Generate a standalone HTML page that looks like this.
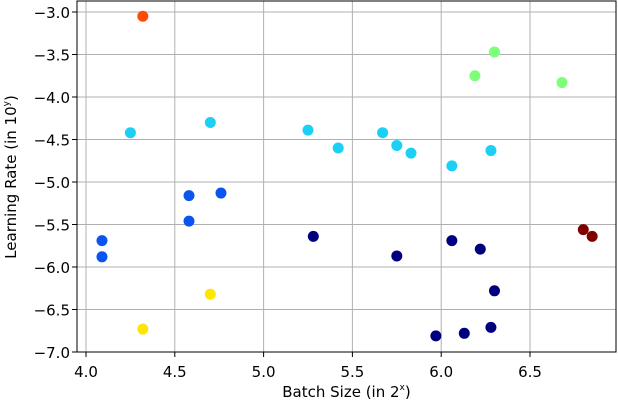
<!DOCTYPE html>
<html><head><meta charset="utf-8"><style>
body{margin:0;background:#fff;font-family:"DejaVu Sans","Liberation Sans",sans-serif;}
svg text{font-family:"DejaVu Sans","Liberation Sans",sans-serif;fill:#000}
</style></head><body>
<svg id="chart" width="618" height="402" xmlns="http://www.w3.org/2000/svg"></svg>
<script>
const xs=[4.32,6.30,6.19,6.68,4.25,4.70,5.25,5.42,5.67,5.75,5.83,6.06,6.28,4.09,4.09,4.58,4.58,4.76,5.28,5.75,6.06,6.22,6.30,5.97,6.13,6.28,6.80,6.85,4.70,4.32];
const ys=[-3.05,-3.47,-3.75,-3.83,-4.42,-4.30,-4.39,-4.60,-4.42,-4.57,-4.66,-4.81,-4.63,-5.69,-5.88,-5.16,-5.46,-5.13,-5.64,-5.87,-5.69,-5.79,-6.28,-6.81,-6.78,-6.71,-5.56,-5.64,-6.32,-6.73];
const groups=["orange","lgreen","lgreen","lgreen","cyan","cyan","cyan","cyan","cyan","cyan","cyan","cyan","cyan","blue","blue","blue","blue","blue","navy","navy","navy","navy","navy","navy","navy","navy","dred","dred","yellow","yellow"];
const xTicks=[4.0,4.5,5.0,5.5,6.0,6.5];
const yTicks=[-3.0,-3.5,-4.0,-4.5,-5.0,-5.5,-6.0,-6.5,-7.0];
const colors={orange:"#ff4a00",lgreen:"#7dff7a",cyan:"#1ad0f5",blue:"#0a55f0",navy:"#00007f",dred:"#800000",yellow:"#ffe600"};
const L=77,R=616,T=1,B=352;
const sx=v=>86+(v-4)*177.6;
const sy=v=>12+(-3-v)*85;
const svg=document.getElementById('chart');
const NS="http://www.w3.org/2000/svg";
function mk(t,a){const e=document.createElementNS(NS,t);for(const k in a)e.setAttribute(k,a[k]);svg.appendChild(e);return e;}
xTicks.forEach(v=>{
 const g=mk('line',{x1:sx(v),x2:sx(v),y1:T,y2:B,stroke:'#b0b0b0','stroke-width':1});
 
 
 mk('line',{x1:sx(v),x2:sx(v),y1:B,y2:B+5,stroke:'#000'});
 const t=mk('text',{x:sx(v),y:B+25,'text-anchor':'middle','font-size':15});
 t.textContent=v.toFixed(1);
 
 
});
yTicks.forEach(v=>{
 const g=mk('line',{x1:L,x2:R,y1:sy(v),y2:sy(v),stroke:'#b0b0b0','stroke-width':1});
 
 
 mk('line',{x1:L-5,x2:L,y1:sy(v),y2:sy(v),stroke:'#000'});
 const t=mk('text',{x:L-7,y:sy(v)+6,'text-anchor':'end','font-size':15});
 t.textContent=v.toFixed(1).replace('-','\u2212');
 
 
});
xs.forEach((x,i)=>{
 const c=mk('circle',{cx:sx(x),cy:sy(ys[i]),r:5.5,fill:colors[groups[i]]});
 
 
});
const f=mk('rect',{x:L,y:T,width:R-L,height:B-T,fill:'none',stroke:'#000','stroke-width':1});


const xt=mk('text',{x:(L+R)/2,y:397,'text-anchor':'middle','font-size':15});
xt.innerHTML='Batch Size (in 2<tspan dy="-7" font-size="9">x</tspan><tspan dy="7">)</tspan>';


const yt=mk('text',{x:0,y:0,'text-anchor':'middle','font-size':15,transform:'translate(16,177) rotate(-90)'});
yt.innerHTML='Learning Rate (in 10<tspan dy="-7" font-size="9">y</tspan><tspan dy="7">)</tspan>';


</script>
</body></html>
